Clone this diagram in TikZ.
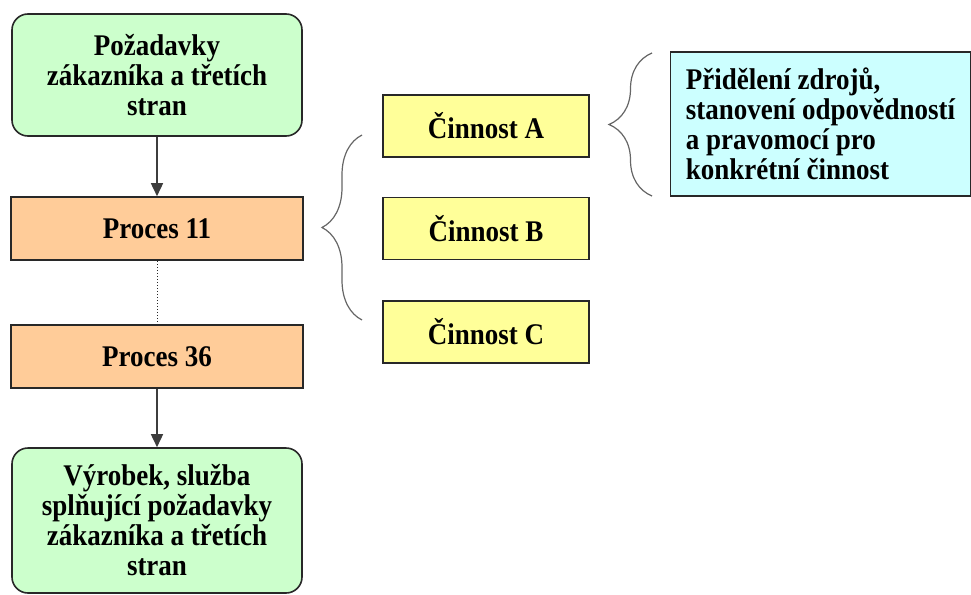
\documentclass[tikz,border=0pt]{standalone}
\usepackage{fontspec}
\setmainfont{Liberation Serif}[FakeStretch=0.9]
\usetikzlibrary{arrows.meta,decorations.pathreplacing}
\definecolor{reqgreen}{RGB}{204,255,204}
\definecolor{procorange}{RGB}{255,204,153}
\definecolor{actyellow}{RGB}{255,255,153}
\definecolor{infocyan}{RGB}{204,255,255}
\definecolor{edge}{RGB}{40,40,40}

\begin{document}
\begin{tikzpicture}[x=1pt, y=-1pt, node distance=100pt,
        font=\bfseries\fontsize{30}{30}\selectfont,
        base/.style={draw=edge, line width=1.6pt, inner sep=0pt},
        goal/.style={base, fill=reqgreen, rounded corners=16pt, minimum width=290pt, align=center},
        proc/.style={base, fill=procorange, minimum width=292pt, minimum height=63pt},
        act/.style={base, fill=actyellow, minimum width=206pt, minimum height=62pt},
        info/.style={base, fill=infocyan, minimum height=144pt, minimum width=300pt, align=left},
        arrow/.style={-{Triangle[length=13pt,width=12pt]}, draw=edge!90, line width=1.6pt},
        curly/.style={decorate, decoration={brace, amplitude=40pt}, draw=gray!80!black, line width=1.2pt}]

        \useasboundingbox (0,0) rectangle (971,594);

        % main chain
        \node[goal, minimum height=122pt] (req) at (157,75) {Požadavky\\zákazníka a třetích\\stran};
        \node[proc, below of=req, node distance=153.5pt] (p11) {Proces 11};
        \node[proc, below of=p11, node distance=128pt] (p36) {Proces 36};
        \node[goal, minimum height=145pt, below of=p36, node distance=164pt] (prod) {Výrobek, služba\\splňující požadavky\\zákazníka a třetích\\stran};

        % activities
        \node[act] (actA) at (486,126) {Činnost A};
        \node[act, below of=actA, node distance=102.5pt] (actB) {Činnost B};
        \node[act, below of=actB, node distance=103.5pt] (actC) {Činnost C};

        \node[info] (res) at (820.5,124) {Přidělení zdrojů,\\stanovení odpovědností\\a pravomocí pro\\konkrétní činnost};

        \draw[arrow] (req) -- (p11);
        \draw[dotted, draw=edge, line width=1pt] (p11) -- (p36);
        \draw[arrow] (p36) -- (prod);

        % braces
        \coordinate (b1s) at (362,320);
        \coordinate (b1e) at (362,135);
        \coordinate (b2s) at (652,196);
        \coordinate (b2e) at (652,53);
        \draw[curly] (b1s) -- (b1e);
        \draw[curly, decoration={amplitude=43pt}] (b2s) -- (b2e);
    \end{tikzpicture}
\end{document}
